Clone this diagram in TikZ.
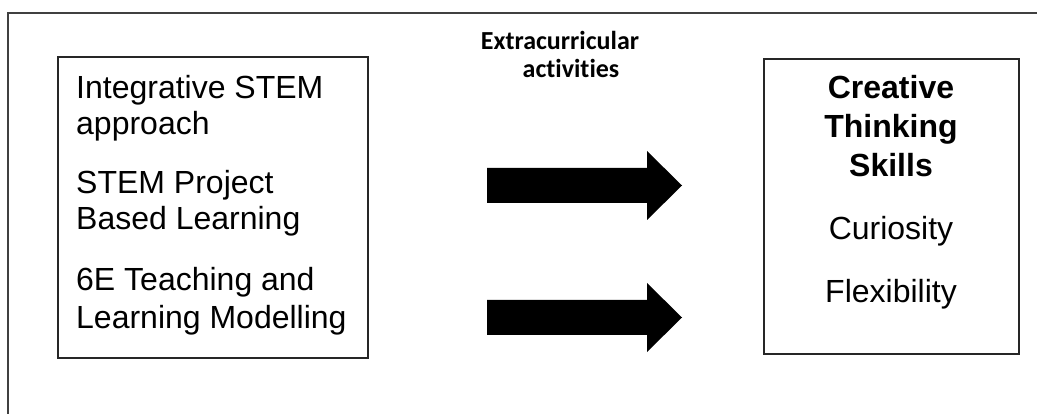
\documentclass[tikz,border=0pt]{standalone}
\usepackage{fontspec}
\setmainfont{Liberation Sans}
\newfontfamily\carlito[Ligatures=NoCommon]{Carlito}
\tikzset{
  frameline/.style={draw=black!75, line width=1.2pt},
  box/.style={draw=black!85, line width=1.1pt, inner sep=0pt},
  txt/.style={inner sep=0pt, font=\fontsize{32}{37}\selectfont},
  boldtxt/.style={inner sep=0pt, font=\fontsize{32}{37}\selectfont\bfseries},
  labeltxt/.style={inner sep=0pt, font=\carlito\fontsize{26}{27}\selectfont\bfseries},
  fatarrow/.style={fill=black, draw=none}
}
\begin{document}
\begin{tikzpicture}[x=1pt,y=-1pt]
\useasboundingbox (0,0) rectangle (1037,414);
% outer frame (top and left sides)
\coordinate (fa) at (8,414);
\coordinate (fb) at (8,13);
\coordinate (fc) at (1037,13);
\draw[frameline] (fa) -- (fb) -- (fc);
% boxes
\node[box, minimum width=310pt, minimum height=301pt] (L) at (213,207.5) {};
\node[box, minimum width=255pt, minimum height=295pt] (R) at (891.5,206.5) {};
% left texts
\node[txt, anchor=base west] (l1) at (76,99) {Integrative STEM};
\node[txt, anchor=base west] (l2) at (76,135) {approach};
\node[txt, anchor=base west] (l3) at (76,194) {STEM Project};
\node[txt, anchor=base west] (l4) at (76,230) {Based Learning};
\node[txt, anchor=base west] (l5) at (76,291) {6E Teaching and};
\node[txt, anchor=base west] (l6) at (76,328) {Learning Modelling};
% right texts
\node[boldtxt, anchor=base] (r1) at (891,99) {Creative};
\node[boldtxt, anchor=base] (r2) at (891,138) {Thinking};
\node[boldtxt, anchor=base] (r3) at (891,177) {Skills};
\node[txt, anchor=base] (r4) at (891,240) {Curiosity};
\node[txt, anchor=base] (r5) at (891,302) {Flexibility};
% middle label
\node[labeltxt, anchor=base] (e1) at (560,50) {Extracurricular};
\node[labeltxt, anchor=base] (e2) at (571,78) {activities};
% block arrows
\coordinate (a1s) at (487,185.5);
\coordinate (a1t) at (682,185.5);
\fill[fatarrow] (a1s) ++(0,-17.5) -- ++(160,0) -- ++(0,-17) -- (a1t) -- ++(-35,34.5) -- ++(0,-17) -- ++(-160,0) -- cycle;
\coordinate (a2s) at (487,317.5);
\coordinate (a2t) at (682,317.5);
\fill[fatarrow] (a2s) ++(0,-17.5) -- ++(160,0) -- ++(0,-17) -- (a2t) -- ++(-35,34.5) -- ++(0,-17) -- ++(-160,0) -- cycle;
\end{tikzpicture}
\end{document}
